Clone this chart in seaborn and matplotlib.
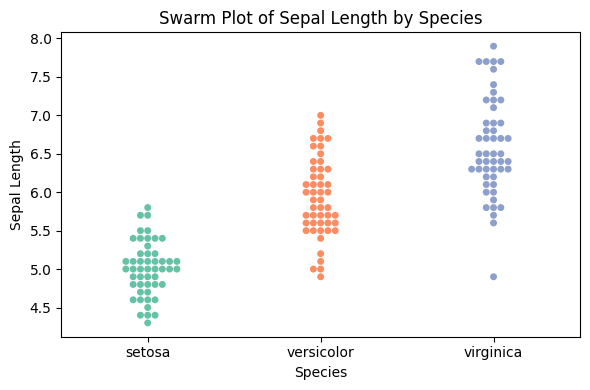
import matplotlib
matplotlib.use("Agg")
import matplotlib.pyplot as plt
import seaborn as sns
import pandas as pd

species = ["setosa", "versicolor", "virginica"]
setosa = [5.1,4.9,4.7,4.6,5.0,5.4,4.6,5.0,4.4,4.9,5.4,4.8,4.8,4.3,5.8,5.7,5.4,5.1,5.7,5.1,
          5.4,5.1,4.6,5.1,4.8,5.0,5.0,5.2,5.2,4.7,4.8,5.4,5.2,5.5,4.9,5.0,5.5,4.9,4.4,5.1,
          5.0,4.5,4.4,5.0,5.1,4.8,5.1,4.6,5.3,5.0]
versicolor = [7.0,6.4,6.9,5.5,6.5,5.7,6.3,4.9,6.6,5.2,5.0,5.9,6.0,6.1,5.6,6.7,5.6,5.8,6.2,5.6,
              5.9,6.1,6.3,6.1,6.4,6.6,6.8,6.7,6.0,5.7,5.5,5.5,5.8,6.0,5.4,6.0,6.7,6.3,5.6,5.5,
              5.5,6.1,5.8,5.0,5.6,5.7,5.7,6.2,5.1,5.7]
virginica = [6.3,5.8,7.1,6.3,6.5,7.6,4.9,7.3,6.7,7.2,6.5,6.4,6.8,5.7,5.8,6.4,6.5,7.7,7.7,6.0,
             6.9,5.6,7.7,6.3,6.7,7.2,6.2,6.1,6.4,7.2,7.4,7.9,6.4,6.3,6.1,7.7,6.3,6.4,6.0,6.9,
             6.7,6.9,5.8,6.8,6.7,6.7,6.3,6.5,6.2,5.9]

df = pd.DataFrame({
    "species": ["setosa"] * len(setosa) + ["versicolor"] * len(versicolor) + ["virginica"] * len(virginica),
    "sepal_length": setosa + versicolor + virginica,
})

fig, ax = plt.subplots(figsize=(6, 4), dpi=100)
sns.swarmplot(data=df, x="species", y="sepal_length", hue="species", order=species,
              palette="Set2", legend=False, ax=ax)
ax.set_title("Swarm Plot of Sepal Length by Species")
ax.set_xlabel("Species")
ax.set_ylabel("Sepal Length")
fig.tight_layout()
fig.savefig("out.png", dpi=100, bbox_inches="tight")
